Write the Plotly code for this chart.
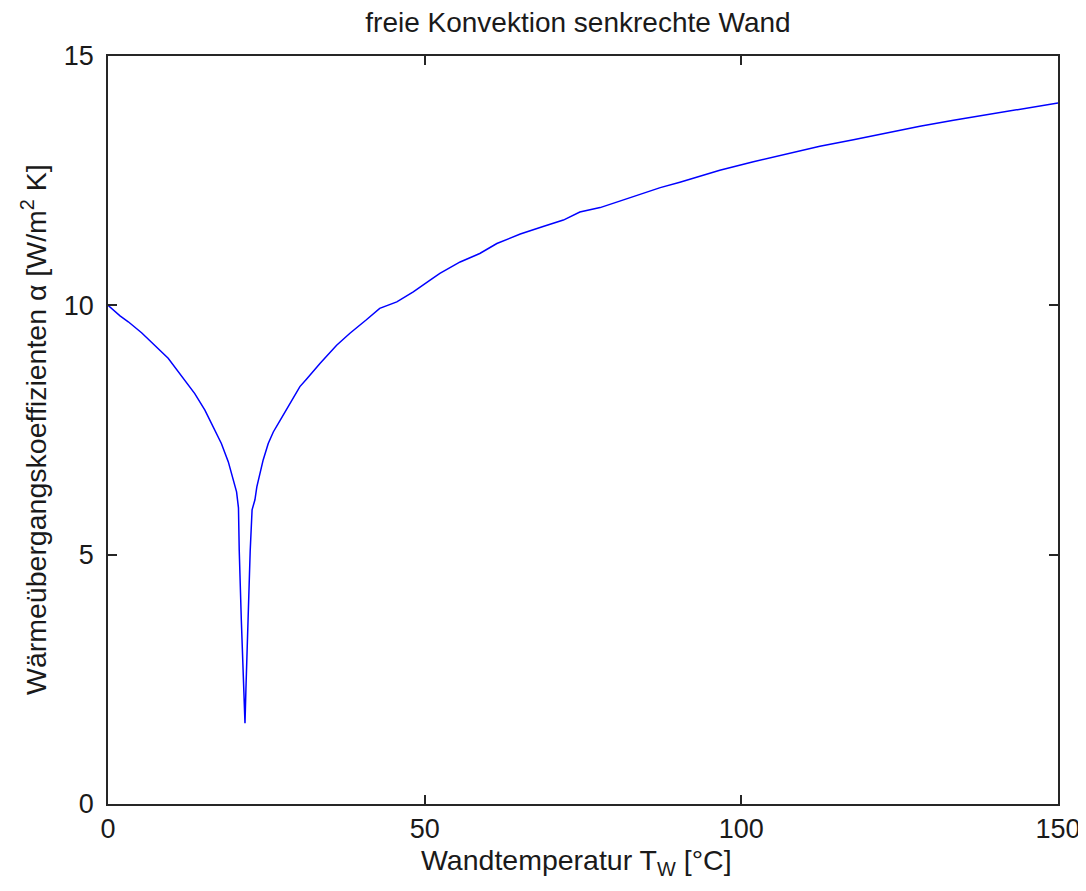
import plotly.graph_objects as go

# Wall temperature T_W [°C]
wall_temp = [0, 1.9, 3.2, 5.3, 9.5, 11.9, 13.7, 15.3, 16.9, 17.9, 19.0, 19.8, 20.3,
             20.6, 20.72, 21.05, 21.45, 21.63, 21.78, 22.1, 22.45, 22.75,
             23.2, 23.5, 24.0, 24.5, 25.3, 26.1, 27.2, 28.7, 30.3, 31.4, 33.5,
             36.1, 38.2, 40.8, 42.9, 45.6, 48.2, 50.8, 52.4, 55.6, 58.7, 61.4,
             65.1, 68.7, 71.9, 74.5, 77.7, 80.8, 84.5, 87.2, 90.3, 93.5, 96.6,
             101.9, 107.2, 112.4, 117.7, 123.0, 128.2, 133.5, 138.7, 144.0, 150]
# Heat transfer coefficient alpha [W/m^2 K]
alpha = [10.0, 9.79, 9.67, 9.45, 8.94, 8.54, 8.23, 7.90, 7.50, 7.23, 6.86, 6.50, 6.26,
         5.94, 5.09, 3.69, 2.31, 1.62, 2.31, 3.69, 5.07, 5.90,
         6.10, 6.36, 6.63, 6.90, 7.23, 7.46, 7.70, 8.03, 8.37, 8.53, 8.84,
         9.20, 9.44, 9.71, 9.94, 10.07, 10.27, 10.50, 10.64, 10.87, 11.04, 11.24,
         11.43, 11.58, 11.71, 11.87, 11.96, 12.09, 12.25, 12.36, 12.47, 12.59, 12.71,
         12.88, 13.04, 13.19, 13.32, 13.46, 13.59, 13.71, 13.82, 13.93, 14.06]

x_ticks = [0, 50, 100, 150]
y_ticks = [0, 5, 10, 15]

title_text = "freie Konvektion senkrechte Wand"
x_label = "Wandtemperatur T<sub>W</sub> [°C]"
y_label = "Wärmeübergangskoeffizienten α [W/m<sup>2</sup> K]"

FONT = "Liberation Sans, Arial, sans-serif"
TXT = "#1a1a1a"

# page body has an 8px default margin, so the figure is sized to fit the window
W, H = 1078, 883

fig = go.Figure()
fig.add_trace(go.Scatter(x=wall_temp, y=alpha, mode="lines",
                         line=dict(color="#0000ff", width=1.5), showlegend=False))

axis_common = dict(showgrid=False, zeroline=False, showline=True, mirror="ticks",
                   linecolor="#262626", linewidth=1.5, ticks="inside", ticklen=9,
                   tickwidth=1.5, tickcolor="#262626", automargin=False,
                   tickfont=dict(family=FONT, size=27, color=TXT))

fig.update_xaxes(range=[0, 150], tickvals=x_ticks, ticktext=[str(v) for v in x_ticks],
                 ticklabelstandoff=0, **axis_common)
fig.update_yaxes(range=[0, 15], tickvals=y_ticks, ticktext=[str(v) for v in y_ticks],
                 ticklabelstandoff=7, **axis_common)

fig.add_annotation(text=x_label, xref="paper", yref="paper", x=0.5, y=0,
                   xanchor="center", yanchor="middle", xshift=-7, yshift=-58,
                   showarrow=False, font=dict(family=FONT, size=28.5, color=TXT))
fig.add_annotation(text=y_label, xref="paper", yref="paper", x=0, y=0.5,
                   xanchor="center", yanchor="middle", xshift=-74, textangle=-90,
                   showarrow=False, font=dict(family=FONT, size=28.5, color=TXT))

fig.update_layout(
    width=W, height=H,
    margin=dict(l=100, r=28, t=48, b=87),
    paper_bgcolor="white", plot_bgcolor="white",
    title=dict(text=title_text, x=570 / W, xanchor="center",
               y=1 - 14 / H, yanchor="middle", yref="container",
               font=dict(family=FONT, size=28, color=TXT)),
)

fig.write_html("out.html")
